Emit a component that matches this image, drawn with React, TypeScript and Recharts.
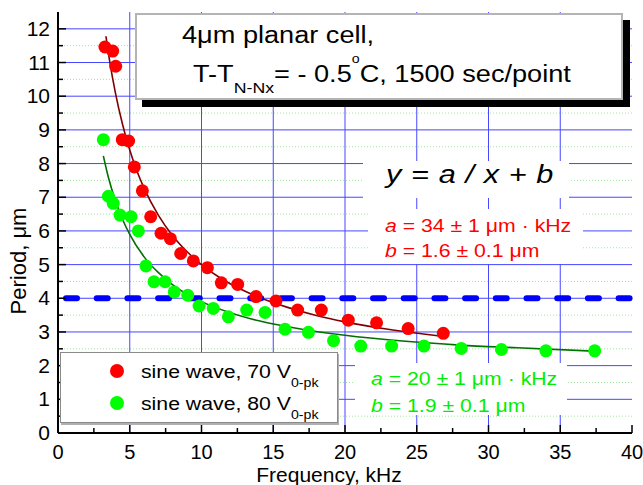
import React from 'react';
import {
  ComposedChart,
  Scatter,
  Line,
  XAxis,
  YAxis,
  CartesianGrid,
  ReferenceLine,
} from 'recharts';

const FONT = '"Liberation Sans", Arial, sans-serif';

// measured points, 70 V (red)
const redFreq = [
  3.27, 3.81, 4.02, 4.48, 4.92, 5.32, 5.88, 6.46, 7.18, 7.83, 8.55, 9.43,
  10.41, 11.38, 12.52, 13.8, 15.19, 16.7, 18.35, 20.23, 22.2, 24.4, 26.85,
];
const redPeriod = [
  11.46, 11.34, 10.89, 8.71, 8.67, 7.9, 7.19, 6.42, 5.93, 5.77, 5.33, 5.11,
  4.91, 4.46, 4.41, 4.05, 3.92, 3.65, 3.65, 3.35, 3.27, 3.1, 2.96,
];

// measured points, 80 V (green)
const greenFreq = [
  3.16, 3.51, 3.85, 4.32, 5.09, 5.6, 6.13, 6.69, 7.46, 8.1, 9.04, 9.83, 10.82,
  11.87, 13.15, 14.43, 15.82, 17.45, 19.2, 21.1, 23.25, 25.5, 28.1, 30.9, 34.0,
  37.4,
];
const greenPeriod = [
  8.71, 7.03, 6.82, 6.47, 6.42, 6.0, 4.96, 4.49, 4.49, 4.19, 4.09, 3.77, 3.7,
  3.45, 3.65, 3.58, 3.08, 2.99, 2.74, 2.58, 2.58, 2.58, 2.51, 2.48, 2.44, 2.44,
];

// fit curves
const redFitFreq = [
  3.34, 3.6, 4, 4.5, 5, 5.5, 6, 7, 8, 9, 10, 12, 14, 16, 18, 20, 23, 26.8,
];
const redFitPeriod = [
  11.78, 11.04, 10.1, 9.16, 8.4, 7.78, 7.27, 6.46, 5.85, 5.38, 5.0, 4.43, 4.03,
  3.73, 3.49, 3.3, 3.08, 2.87,
];
const greenFitFreq = [
  3.16, 3.5, 4, 4.5, 5, 6, 7, 8, 9, 10, 12, 14, 17, 20, 24, 28, 32, 37.4,
];
const greenFitPeriod = [
  8.23, 7.61, 6.9, 6.34, 5.9, 5.23, 4.76, 4.4, 4.12, 3.9, 3.57, 3.33, 3.08, 2.9,
  2.73, 2.61, 2.53, 2.43,
];

const cellPeriod = 4;

const xTicks = [
  0, 2.5, 5, 7.5, 10, 12.5, 15, 17.5, 20, 22.5, 25, 27.5, 30, 32.5, 35, 37.5,
  40,
];
const yTicks = [
  0, 0.5, 1, 1.5, 2, 2.5, 3, 3.5, 4, 4.5, 5, 5.5, 6, 6.5, 7, 7.5, 8, 8.5, 9,
  9.5, 10, 10.5, 11, 11.5, 12,
];
const xGrid = [5, 10, 15, 20, 25, 30, 35];
const yGrid = [1, 2, 3, 4, 5, 6, 7, 8, 9, 10, 11, 12];
const yMinorGrid = [
  0.5, 1.5, 2.5, 3.5, 4.5, 5.5, 6.5, 7.5, 8.5, 9.5, 10.5, 11.5,
];

const toPoints = (xs: number[], ys: number[]) =>
  xs.map((x, i) => ({ x, y: ys[i] }));

const BottomTick = (props: any) => {
  const { x, y, payload } = props;
  const major = payload.value % 5 === 0;
  return (
    <g>
      <line x1={x} y1={y} x2={x} y2={y - (major ? 8 : 5)} stroke="#000" strokeWidth={1.5} />
      {major && (
        <text x={x} y={y + 26} textAnchor="middle" fontSize={20} fill="#000" fontFamily={FONT}>
          {payload.value}
        </text>
      )}
    </g>
  );
};

const TopTick = (props: any) => {
  const { x, y, payload } = props;
  const major = payload.value % 5 === 0;
  return <line x1={x} y1={y} x2={x} y2={y + (major ? 8 : 5)} stroke="#000" strokeWidth={1.5} />;
};

const LeftTick = (props: any) => {
  const { x, y, payload } = props;
  const major = payload.value % 1 === 0;
  return (
    <g>
      <line x1={x} y1={y} x2={x + (major ? 8 : 5)} y2={y} stroke="#000" strokeWidth={1.5} />
      {major && (
        <text x={x - 8} y={y + 7} textAnchor="end" fontSize={21} fill="#000" fontFamily={FONT}>
          {payload.value}
        </text>
      )}
    </g>
  );
};

const RightTick = (props: any) => {
  const { x, y, payload } = props;
  const major = payload.value % 1 === 0;
  return <line x1={x} y1={y} x2={x - (major ? 7 : 5)} y2={y} stroke="#000" strokeWidth={1.5} />;
};

const dot = (color: string) => (p: any) =>
  <circle cx={p.cx} cy={p.cy} r={6.5} fill={color} />;

function Txt({ left, baseline, size, color = '#000', italic = false, children }: any) {
  return (
    <div
      style={{
        position: 'absolute',
        left,
        top: baseline - 0.8465 * size,
        fontSize: size,
        lineHeight: `${size}px`,
        height: size,
        whiteSpace: 'nowrap',
        color,
        fontStyle: italic ? 'italic' : 'normal',
        fontFamily: FONT,
        transform: 'scaleX(1.18)',
        transformOrigin: 'left',
      }}
    >
      {children}
    </div>
  );
}

const sub = (text: string, size: number, shift: number) => (
  <span style={{ fontSize: size, position: 'relative', top: shift, lineHeight: 0 }}>{text}</span>
);

const whiteBox = (left: number, top: number, width: number, height: number) => (
  <div style={{ position: 'absolute', left, top, width, height, background: '#fff' }} />
);

export default function App() {
  return (
    <div style={{ position: 'absolute', left: 0, top: 0, width: 643, height: 485, background: '#fff', fontFamily: FONT }}>
      <ComposedChart width={643} height={485} margin={{ top: 12, right: 11, bottom: 0, left: 0 }}>
        <CartesianGrid
          horizontalValues={yMinorGrid}
          vertical={false}
          stroke="#9fe79f"
          strokeDasharray="1 2"
        />
        <CartesianGrid
          horizontalValues={yGrid}
          verticalValues={xGrid}
          stroke="#4747ff"
          strokeWidth={1}
        />
        <XAxis
          dataKey="x"
          type="number"
          domain={[0, 40]}
          allowDataOverflow
          ticks={xTicks}
          interval={0}
          height={52}
          tickSize={0}
          tickMargin={0}
          tickLine={false}
          axisLine={{ stroke: '#000', strokeWidth: 2 }}
          tick={<BottomTick />}
          label={{
            content: () => (
              <text x={329} y={482} textAnchor="middle" fontSize={21} fill="#000" fontFamily={FONT}>
                Frequency, kHz
              </text>
            ),
          }}
        />
        <XAxis
          xAxisId="top"
          orientation="top"
          dataKey="x"
          type="number"
          domain={[0, 40]}
          allowDataOverflow
          ticks={xTicks}
          interval={0}
          height={0}
          tickSize={0}
          tickMargin={0}
          tickLine={false}
          axisLine={{ stroke: '#000', strokeWidth: 2 }}
          tick={<TopTick />}
        />
        <YAxis
          type="number"
          domain={[0, 12.5]}
          allowDataOverflow
          ticks={yTicks}
          interval={0}
          width={58}
          tickSize={0}
          tickMargin={0}
          tickLine={false}
          axisLine={{ stroke: '#000', strokeWidth: 2 }}
          tick={<LeftTick />}
          label={{
            content: () => (
              <text
                x={26}
                y={261}
                transform="rotate(-90, 26, 261)"
                textAnchor="middle"
                fontSize={22}
                fill="#000"
                fontFamily={FONT}
              >
                Period, μm
              </text>
            ),
          }}
        />
        <YAxis
          yAxisId="right"
          orientation="right"
          type="number"
          domain={[0, 12.5]}
          allowDataOverflow
          ticks={yTicks}
          interval={0}
          width={0}
          tickSize={0}
          tickMargin={0}
          tickLine={false}
          axisLine={{ stroke: '#000', strokeWidth: 2 }}
          tick={<RightTick />}
        />
        <Scatter
          data={toPoints(redFreq, redPeriod)}
          dataKey="y"
          fill="#ff0000"
          shape={dot('#ff0000')}
          isAnimationActive={false}
        />
        <Scatter
          data={toPoints(greenFreq, greenPeriod)}
          dataKey="y"
          fill="#00ff00"
          shape={dot('#00ff00')}
          isAnimationActive={false}
        />
        <Line
          data={toPoints(redFitFreq, redFitPeriod)}
          dataKey="y"
          type="monotone"
          stroke="#800000"
          strokeWidth={1.6}
          dot={false}
          activeDot={false}
          isAnimationActive={false}
        />
        <Line
          data={toPoints(greenFitFreq, greenFitPeriod)}
          dataKey="y"
          type="monotone"
          stroke="#007000"
          strokeWidth={1.6}
          dot={false}
          activeDot={false}
          isAnimationActive={false}
        />
        <ReferenceLine
          y={cellPeriod}
          stroke="#0000ff"
          strokeWidth={6}
          strokeDasharray="11 19.7"
          strokeDashoffset={22.7}
          strokeLinecap="round"
        />
      </ComposedChart>

      {/* title box */}
      <div
        style={{
          position: 'absolute',
          left: 135,
          top: 13,
          width: 488,
          height: 87,
          boxSizing: 'border-box',
          background: '#fff',
          border: '2px solid #b4b4b4',
          boxShadow: '7px 7px 0 #000',
        }}
      />
      <Txt left={182} baseline={43} size={23}>4μm planar cell,</Txt>
      <Txt left={193} baseline={82} size={23}>
        T-T{sub('N-Nx', 15, 11)}= - 0.5{sub('o', 12, -19)}C, 1500 sec/point
      </Txt>

      {/* fit formula */}
      {whiteBox(363, 161, 206, 37)}
      <Txt left={386} baseline={183} size={26} italic>
        <span style={{ wordSpacing: 1 }}>y = a / x + b</span>
      </Txt>

      {whiteBox(368, 209, 215, 55)}
      <Txt left={385} baseline={232} size={18} color="#ff0000">
        <i>a</i> = 34 ± 1 μm · kHz
      </Txt>
      <Txt left={385} baseline={257} size={18} color="#ff0000">
        <i>b</i> = 1.6 ± 0.1 μm
      </Txt>

      {whiteBox(355, 363, 212, 52)}
      <Txt left={371} baseline={385} size={18} color="#00ee00">
        <i>a</i> = 20 ± 1 μm · kHz
      </Txt>
      <Txt left={371} baseline={412} size={18} color="#00ee00">
        <i>b</i> = 1.9 ± 0.1 μm
      </Txt>

      {/* legend */}
      <div
        style={{
          position: 'absolute',
          left: 60,
          top: 352,
          width: 278,
          height: 71,
          boxSizing: 'border-box',
          background: '#fff',
          border: '1px solid #8a8a8a',
          boxShadow: '1px 2px 0 #b0b0b0',
        }}
      />
      <div style={{ position: 'absolute', left: 110, top: 364, width: 14, height: 14, borderRadius: 7, background: '#ff0000' }} />
      <Txt left={141} baseline={378} size={18}>
        sine wave, 70 V{sub('0-pk', 12, 9)}
      </Txt>
      <div style={{ position: 'absolute', left: 110, top: 396, width: 14, height: 14, borderRadius: 7, background: '#00ff00' }} />
      <Txt left={141} baseline={410} size={18}>
        sine wave, 80 V{sub('0-pk', 12, 9)}
      </Txt>
    </div>
  );
}
